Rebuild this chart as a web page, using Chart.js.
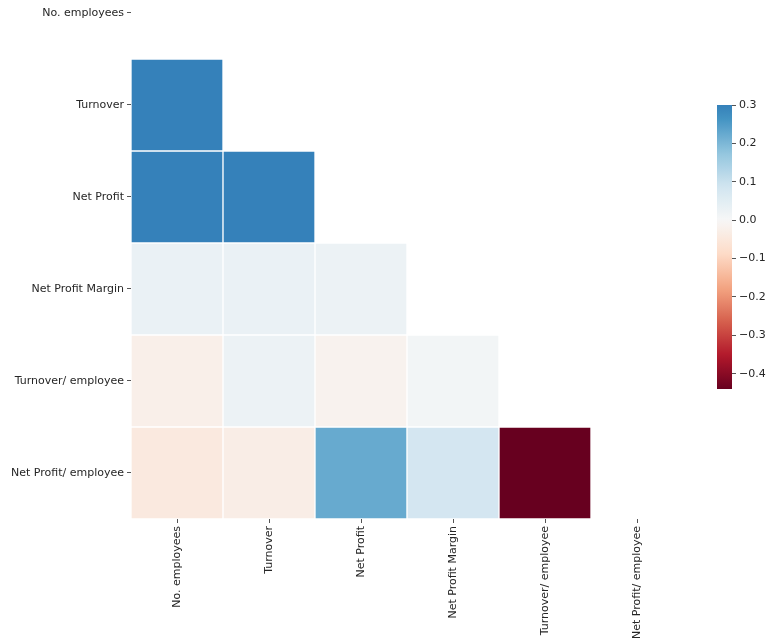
<!DOCTYPE html>
<html>
<head>
<meta charset="utf-8">
<script src="https://cdn.jsdelivr.net/npm/chart.js@4.4.0/dist/chart.umd.min.js"></script>
<style>
  html, body { margin: 0; padding: 0; background: #fff; overflow: hidden; }
  #wrap { position: relative; width: 766px; height: 644px; overflow: hidden; }
  #heat { position: absolute; left: 0; top: 0; }
  #cbar { position: absolute; left: 705px; top: 95px; }
</style>
</head>
<body>
<div id="wrap">
  <canvas id="heat" width="766" height="644"></canvas>
  <canvas id="cbar" width="100" height="310"></canvas>
</div>
<script>
//variables of the correlation matrix
const variables = ['No. employees', 'Turnover', 'Net Profit', 'Net Profit Margin', 'Turnover/ employee', 'Net Profit/ employee']

//lower triangle only (upper half + diagonal masked), row i keeps i values
const rowNoEmployees = []
const rowTurnover = [0.30]
const rowNetProfit = [0.30, 0.30]
const rowNetProfitMargin = [0.03, 0.03, 0.025]
const rowTurnoverEmployee = [-0.026, 0.025, -0.016, 0.011]
const rowNetProfitEmployee = [-0.044, -0.031, 0.224, 0.081, -0.44]
const corrRows = [rowNoEmployees, rowTurnover, rowNetProfit, rowNetProfitMargin, rowTurnoverEmployee, rowNetProfitEmployee]

//colour bar
const cbarTicks = [0.3, 0.2, 0.1, 0.0, -0.1, -0.2, -0.3, -0.4]
const vmax = 0.3
const center = 0
const vmin = Math.min(...corrRows.flat())

/////////////////////////////////////////////////////////////
//RdBu colormap, centred on 0
/////////////////////////////////////////////////////////////
const rdbu = ['#67001f', '#b2182b', '#d6604d', '#f4a582', '#fddbc7', '#f7f7f7',
    '#d1e5f0', '#92c5de', '#4393c3', '#2166ac', '#053061']

function hexToRgb(h) {
    return [parseInt(h.slice(1, 3), 16), parseInt(h.slice(3, 5), 16), parseInt(h.slice(5, 7), 16)]
}

function colorFor(v) {
    const vrange = Math.max(vmax - center, center - vmin)
    v = Math.min(vmax, Math.max(vmin, v))
    const t = (v - (center - vrange)) / (2 * vrange)
    const pos = t * (rdbu.length - 1)
    const i = Math.min(rdbu.length - 2, Math.floor(pos))
    const f = pos - i
    const a = hexToRgb(rdbu[i]), b = hexToRgb(rdbu[i + 1])
    const c = a.map((x, k) => Math.round(x + (b[k] - x) * f))
    return 'rgb(' + c.join(',') + ')'
}

const tickFont = { family: 'DejaVu Sans', size: 11 }
const tickColor = '#262626'
const markColor = '#555'

/////////////////////////////////////////////////////////////
//Heatmap
/////////////////////////////////////////////////////////////
//one floating-bar dataset per row, one bar per column
const heatDatasets = corrRows.map((row, r) => ({
    label: variables[r],
    data: variables.map((_, c) => c < row.length ? [r - 0.5, r + 0.5] : null),
    backgroundColor: variables.map((_, c) => c < row.length ? colorFor(row[c]) : 'rgba(0,0,0,0)'),
    borderColor: '#fff',
    borderWidth: 1,
    borderSkipped: false,
    barPercentage: 1,
    categoryPercentage: 1,
    grouped: false,
}))

const heatConfig = {
    type: 'bar',
    data: { labels: variables, datasets: heatDatasets },
    options: {
        responsive: false,
        animation: false,
        layout: { padding: { top: 0, right: 83, bottom: 0, left: 0 } },
        plugins: { legend: { display: false }, tooltip: { enabled: false } },
        scales: {
            x: {
                type: 'category',
                offset: true,
                grid: { offset: false, drawOnChartArea: false, drawTicks: true, tickLength: 4, color: markColor },
                border: { display: false },
                ticks: { autoSkip: false, minRotation: 90, maxRotation: 90, padding: 3, color: tickColor, font: tickFont },
                afterFit: (s) => { s.height = 125; s.paddingLeft = 0; s.paddingRight = 0 },
            },
            y: {
                type: 'linear',
                reverse: true,
                min: -0.141,
                max: 5.5,
                afterBuildTicks: (s) => { s.ticks = variables.map((_, i) => ({ value: i })) },
                grid: { drawOnChartArea: false, drawTicks: true, tickLength: 4, color: markColor },
                border: { display: false },
                ticks: { padding: 3, color: tickColor, font: tickFont, callback: (v) => variables[v] },
                afterFit: (s) => { s.width = 131; s.paddingTop = 0; s.paddingBottom = 0 },
            }
        }
    }
}

const heatChart = new Chart(document.getElementById('heat'), heatConfig)

/////////////////////////////////////////////////////////////
//Colour bar
/////////////////////////////////////////////////////////////
function cbarFill(ctx) {
    const chart = ctx.chart
    if (!chart.chartArea) return null
    const y = chart.scales.y
    const g = chart.ctx.createLinearGradient(0, y.getPixelForValue(vmin), 0, y.getPixelForValue(vmax))
    const n = 40
    for (let k = 0; k <= n; k++) {
        g.addColorStop(k / n, colorFor(vmin + (vmax - vmin) * k / n))
    }
    return g
}

const cbarChart = new Chart(document.getElementById('cbar'), {
    type: 'bar',
    data: {
        labels: [''],
        datasets: [{
            data: [[vmin, vmax]],
            backgroundColor: cbarFill,
            borderWidth: 0,
            barPercentage: 1,
            categoryPercentage: 1,
        }]
    },
    options: {
        responsive: false,
        animation: false,
        layout: { padding: { top: 10, right: 0, bottom: 16, left: 12 } },
        plugins: { legend: { display: false }, tooltip: { enabled: false } },
        scales: {
            x: { display: false },
            y: {
                position: 'right',
                min: vmin,
                max: vmax,
                afterBuildTicks: (s) => { s.ticks = cbarTicks.map((v) => ({ value: v })) },
                grid: { drawOnChartArea: false, drawTicks: true, tickLength: 4, color: markColor },
                border: { display: false },
                ticks: {
                    padding: 3, color: tickColor, font: tickFont,
                    callback: (v) => (v < 0 ? '\u2212' : '') + Math.abs(v).toFixed(1)
                },
                afterFit: (s) => { s.width = 73; s.paddingTop = 0; s.paddingBottom = 0 },
            }
        }
    }
})
</script>
</body>
</html>
